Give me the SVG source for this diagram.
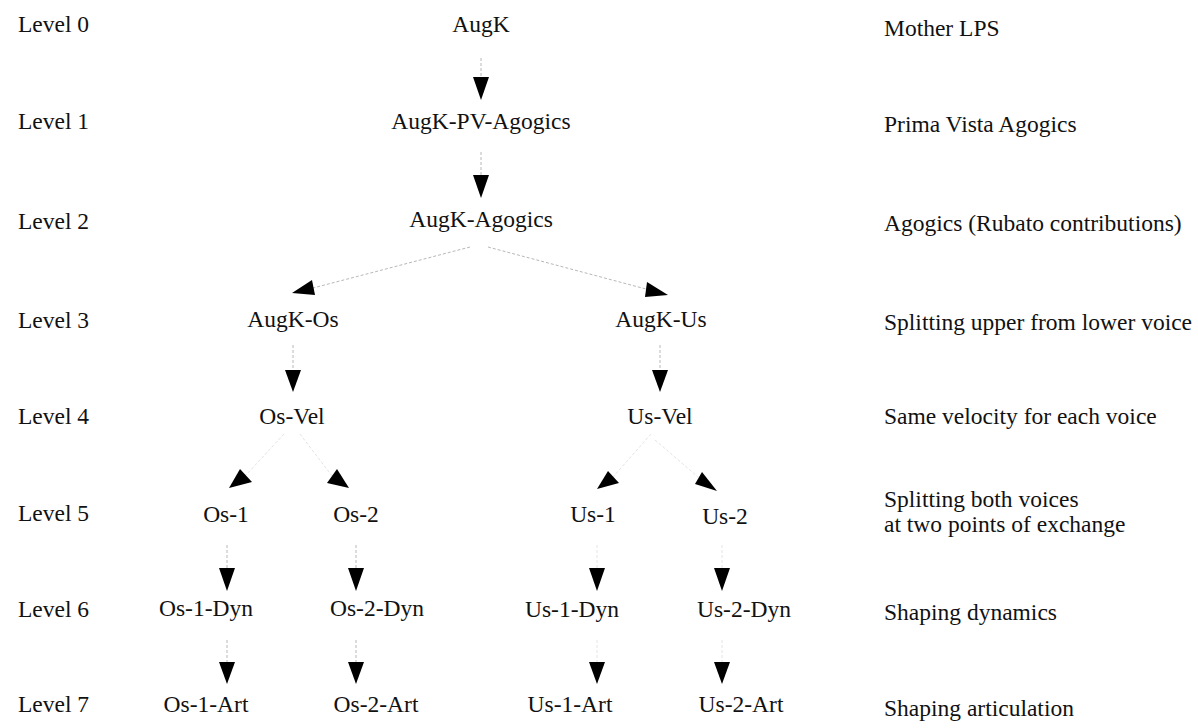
<svg xmlns="http://www.w3.org/2000/svg" width="1198" height="728" viewBox="0 0 1198 728">
<style>
  text { font-family: "Liberation Serif", "Times New Roman", serif; font-size: 23.5px; fill: #111; }
  .node text { text-anchor: middle; }
  .lvl { text-anchor: start; }
  .desc { text-anchor: start; }
  .edge { stroke: #b8b8b8; stroke-width: 1; stroke-dasharray: 3 2; fill: none; }
  .edge.faint { stroke: #e4e4e4; }
  .head { fill: #000; stroke: none; }
</style>
<rect width="1198" height="728" fill="#fff"/>

<g id="levels">
  <text class="lvl" x="18" y="32">Level 0</text>
  <text class="lvl" x="18" y="129">Level 1</text>
  <text class="lvl" x="18" y="229">Level 2</text>
  <text class="lvl" x="18" y="328">Level 3</text>
  <text class="lvl" x="18" y="424">Level 4</text>
  <text class="lvl" x="18" y="521">Level 5</text>
  <text class="lvl" x="18" y="617">Level 6</text>
  <text class="lvl" x="18" y="712">Level 7</text>
</g>

<g id="descriptions">
  <text class="desc" x="884" y="36">Mother LPS</text>
  <text class="desc" x="884" y="132">Prima Vista Agogics</text>
  <text class="desc" x="884" y="231">Agogics (Rubato contributions)</text>
  <text class="desc" x="884" y="330">Splitting upper from lower voice</text>
  <text class="desc" x="884" y="424">Same velocity for each voice</text>
  <text class="desc" x="884" y="507">Splitting both voices</text>
  <text class="desc" x="884" y="532">at two points of exchange</text>
  <text class="desc" x="884" y="620">Shaping dynamics</text>
  <text class="desc" x="884" y="716">Shaping articulation</text>
</g>

<g id="connectors">
  <line class="edge" x1="481" y1="58" x2="481" y2="77"/>
  <polygon class="head" points="473,77 489,77 481,100"/>
  <line class="edge" x1="481" y1="152" x2="481" y2="175"/>
  <polygon class="head" points="473,175 489,175 481,198"/>
  <line class="edge" x1="470" y1="247" x2="313" y2="288"/>
  <polygon class="head" points="312,280 315,295 292,293"/>
  <line class="edge" x1="488" y1="247" x2="646" y2="289"/>
  <polygon class="head" points="647,282 645,297 668,295"/>
  <line class="edge" x1="293" y1="345" x2="293" y2="370"/>
  <polygon class="head" points="285,370 301,370 293,392"/>
  <line class="edge" x1="660" y1="345" x2="660" y2="370"/>
  <polygon class="head" points="652,370 668,370 660,392"/>
  <line class="edge faint" x1="284" y1="434" x2="246" y2="475"/>
  <polygon class="head" points="240,469 252,482 229,488"/>
  <line class="edge faint" x1="300" y1="434" x2="332" y2="476"/>
  <polygon class="head" points="337,469 327,483 349,488"/>
  <line class="edge faint" x1="651" y1="434" x2="613" y2="477"/>
  <polygon class="head" points="608,471 619,483 597,489"/>
  <line class="edge faint" x1="655" y1="440" x2="698" y2="477"/>
  <polygon class="head" points="702,472 695,484 717,491"/>
  <line class="edge" x1="227" y1="545" x2="227" y2="568"/>
  <polygon class="head" points="219,568 235,568 227,591"/>
  <line class="edge" x1="356" y1="545" x2="356" y2="568"/>
  <polygon class="head" points="348,568 364,568 356,591"/>
  <line class="edge faint" x1="597" y1="545" x2="597" y2="568"/>
  <polygon class="head" points="589,568 605,568 597,591"/>
  <line class="edge faint" x1="722" y1="545" x2="722" y2="568"/>
  <polygon class="head" points="714,568 730,568 722,591"/>
  <line class="edge" x1="227" y1="640" x2="227" y2="662"/>
  <polygon class="head" points="219,662 235,662 227,684"/>
  <line class="edge" x1="356" y1="640" x2="356" y2="662"/>
  <polygon class="head" points="348,662 364,662 356,684"/>
  <line class="edge faint" x1="597" y1="640" x2="597" y2="662"/>
  <polygon class="head" points="589,662 605,662 597,684"/>
  <line class="edge faint" x1="722" y1="640" x2="722" y2="662"/>
  <polygon class="head" points="714,662 730,662 722,684"/>
</g>

<g id="n-augk" class="node"><text x="481" y="32">AugK</text></g>
<g id="n-augk-pv" class="node"><text x="481" y="129">AugK-PV-Agogics</text></g>
<g id="n-augk-agogics" class="node"><text x="481" y="227">AugK-Agogics</text></g>
<g id="n-augk-os" class="node"><text x="293" y="327">AugK-Os</text></g>
<g id="n-augk-us" class="node"><text x="661" y="327">AugK-Us</text></g>
<g id="n-os-vel" class="node"><text x="292" y="424">Os-Vel</text></g>
<g id="n-us-vel" class="node"><text x="660" y="424">Us-Vel</text></g>
<g id="n-os-1" class="node"><text x="226" y="522">Os-1</text></g>
<g id="n-os-2" class="node"><text x="356" y="522">Os-2</text></g>
<g id="n-us-1" class="node"><text x="593" y="522">Us-1</text></g>
<g id="n-us-2" class="node"><text x="725" y="524">Us-2</text></g>
<g id="n-os-1-dyn" class="node"><text x="206" y="616">Os-1-Dyn</text></g>
<g id="n-os-2-dyn" class="node"><text x="377" y="616">Os-2-Dyn</text></g>
<g id="n-us-1-dyn" class="node"><text x="572" y="617">Us-1-Dyn</text></g>
<g id="n-us-2-dyn" class="node"><text x="744" y="617">Us-2-Dyn</text></g>
<g id="n-os-1-art" class="node"><text x="206" y="712">Os-1-Art</text></g>
<g id="n-os-2-art" class="node"><text x="376" y="712">Os-2-Art</text></g>
<g id="n-us-1-art" class="node"><text x="570" y="712">Us-1-Art</text></g>
<g id="n-us-2-art" class="node"><text x="741" y="712">Us-2-Art</text></g>
</svg>
